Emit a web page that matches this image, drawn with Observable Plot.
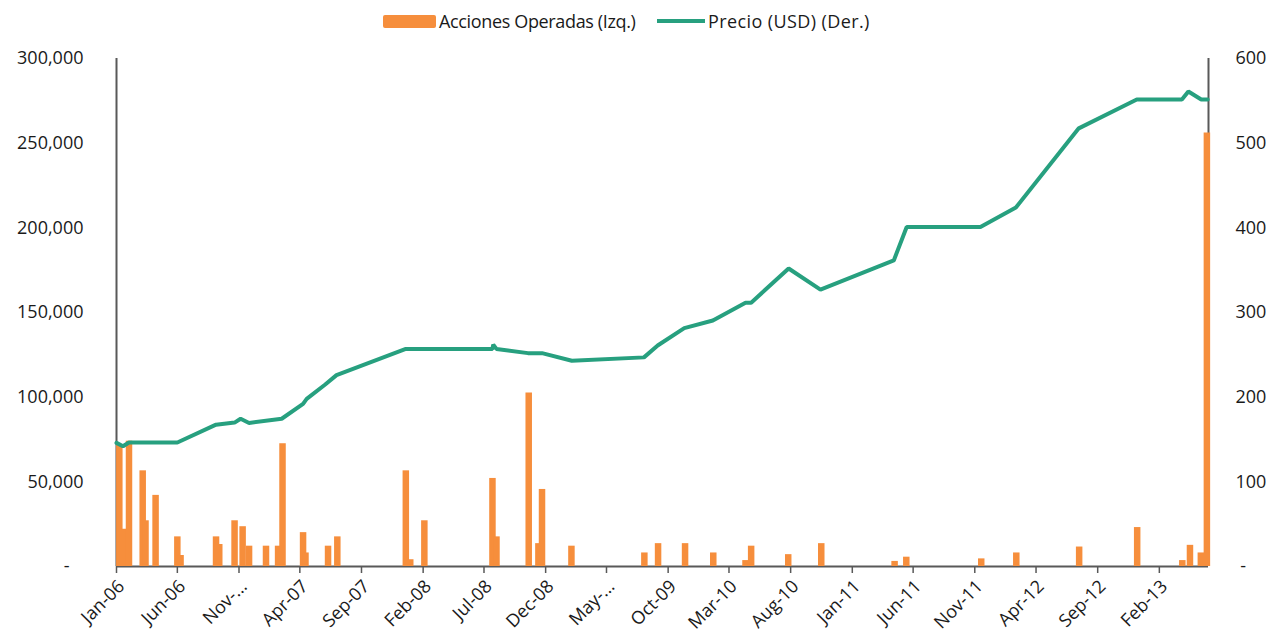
<!DOCTYPE html>
<html>
<head>
<meta charset="utf-8">
<script src="https://cdn.jsdelivr.net/npm/d3@7"></script>
<script src="https://cdn.jsdelivr.net/npm/@observablehq/plot@0.6"></script>
<style>
  body { margin: 0; background: #fff; font-family: "Open Sans", sans-serif; }
  #legend { position: relative; width: 1280px; height: 40px; font-size: 18px; color: #1a1a1a; }
  #legend span { position: absolute; display: block; }
  #legend .lab { top: 8px; line-height: 26px; white-space: nowrap; }
  #chart svg { display: block; }
</style>
</head>
<body>
<div id="legend">
  <span style="left:383px;top:15px;width:53px;height:13px;background:#F68E3C;border-radius:2px;"></span>
  <span class="lab" style="left:439px;letter-spacing:-0.35px;">Acciones Operadas (Izq.)</span>
  <span style="left:657px;top:19px;width:48px;height:4px;background:#27A07F;"></span>
  <span class="lab" style="left:708px;letter-spacing:0.4px;">Precio (USD) (Der.)</span>
</div>
<div id="chart"></div>
<script>
// ---- Data: shares traded (left axis) ----
const tradeDates = [
  "2006-01-08","2006-01-17","2006-02-01","2006-03-07","2006-03-14","2006-04-08",
  "2006-06-01","2006-06-09","2006-09-05","2006-09-13","2006-10-21","2006-11-10",
  "2006-11-26","2007-01-07","2007-02-06","2007-02-17","2007-04-09","2007-04-15",
  "2007-06-10","2007-07-03","2007-12-20","2007-12-31","2008-02-04","2008-07-22",
  "2008-08-01","2008-10-20","2008-11-13","2008-11-22","2009-02-03","2009-08-03",
  "2009-09-06","2009-11-12","2010-01-21","2010-04-11","2010-04-25","2010-07-26",
  "2010-10-16","2011-04-16","2011-05-15","2011-11-17","2012-02-12","2012-07-17",
  "2012-12-08","2013-03-30","2013-04-18","2013-05-15","2013-05-30"
];
const tradeVolumes = [
  72000, 22000, 74000, 56500, 27000, 42000,
  17500, 6500, 17500, 13000, 27000, 23500,
  12000, 12000, 12000, 72500, 20000, 8000,
  12000, 17500, 56500, 4000, 27000, 52000,
  17500, 102500, 13500, 45500, 12000, 8000,
  13500, 13500, 8000, 3500, 12000, 7000,
  13500, 3000, 5500, 4500, 8000, 11500,
  23000, 3500, 12500, 8000, 256000
];

// ---- Data: price in USD (right axis) ----
const priceDates = [
  "2006-01-01","2006-01-17","2006-02-01","2006-06-01","2006-09-05","2006-10-21",
  "2006-11-05","2006-11-26","2007-02-15","2007-04-09","2007-04-18","2007-06-03",
  "2007-07-01","2007-12-20","2008-07-22","2008-07-24","2008-08-01","2008-10-18",
  "2008-11-22","2009-02-04","2009-08-02","2009-09-05","2009-11-10","2010-01-20",
  "2010-04-11","2010-04-25","2010-07-27","2010-10-14","2011-04-14","2011-05-16",
  "2011-11-15","2012-02-11","2012-07-16","2012-12-07","2013-03-29","2013-04-14",
  "2013-05-16","2013-06-01"
];
const priceValues = [
  146, 142, 146.5, 146.5, 167.5, 170,
  174.5, 169.5, 174.5, 192, 198, 215,
  226, 257, 257, 262, 257, 252,
  252, 243, 247, 261, 281.5, 290.5,
  311.5, 311.5, 352, 327, 361.5, 401,
  401, 424, 517.5, 551.5, 551.5, 561,
  551.5, 551.5
];

// ---- Axis ticks ----
const xTickDates = [
  "2006-01-01","2006-06-01","2006-11-01","2007-04-01","2007-09-01","2008-02-01",
  "2008-07-01","2008-12-01","2009-05-01","2009-10-01","2010-03-01","2010-08-01",
  "2011-01-01","2011-06-01","2011-11-01","2012-04-01","2012-09-01","2013-02-01"
];
const xTickLabels = [
  "Jan-06","Jun-06","Nov-...","Apr-07","Sep-07","Feb-08",
  "Jul-08","Dec-08","May-...","Oct-09","Mar-10","Aug-10",
  "Jan-11","Jun-11","Nov-11","Apr-12","Sep-12","Feb-13"
];
const leftTicks = [0, 50000, 100000, 150000, 200000, 250000, 300000];
const leftTickLabels = ["-\u00a0\u00a0\u00a0", "50,000", "100,000", "150,000", "200,000", "250,000", "300,000"];
const rightTickLabels = ["\u00a0-", "100", "200", "300", "400", "500", "600"];

const xStartStr = "2006-01-01";
const xEndStr = "2013-06-03";

// ---- Build ----
const parse = d3.utcParse("%Y-%m-%d");
const trades = tradeDates.map((d, i) => ({date: parse(d), vol: tradeVolumes[i]}));
const prices = priceDates.map((d, i) => ({date: parse(d), price: priceValues[i]}));
const RATIO = 300000 / 600; // right axis 0..600 maps onto left 0..300,000
const xStart = parse(xStartStr), xEnd = parse(xEndStr);
const xTicks = xTickDates.map(parse);
const xLabelMap = new Map(xTicks.map((d, i) => [d.getTime(), xTickLabels[i]]));
const leftMap = new Map(leftTicks.map((d, i) => [d, leftTickLabels[i]]));
const rightMap = new Map(leftTicks.map((d, i) => [d, rightTickLabels[i]]));

const ORANGE = "#F68E3C", GREEN = "#27A07F", AXIS = "#595959";

const chart = Plot.plot({
  width: 1280,
  height: 601,
  marginTop: 18,
  marginBottom: 75,
  marginLeft: 116,
  marginRight: 72,
  style: {fontFamily: "'Open Sans', sans-serif", fontSize: "18px", color: "#1a1a1a", background: "#fff"},
  x: {type: "utc", domain: [xStart, xEnd]},
  y: {domain: [0, 300000]},
  marks: [
    Plot.axisY({anchor: "left", ticks: leftTicks, tickFormat: d => leftMap.get(d), tickSize: 0, tickPadding: 33, label: null}),
    Plot.axisY({anchor: "right", ticks: leftTicks, tickFormat: d => rightMap.get(d), tickSize: 0, tickPadding: 27, label: null}),
    Plot.axisX({ticks: xTicks, tickFormat: () => "", tickSize: 7, stroke: AXIS, strokeWidth: 1.5, label: null}),
    Plot.axisX({ticks: xTicks, tickFormat: d => xLabelMap.get(d.getTime()), tickRotate: -45, tickSize: 0, tickPadding: 6, dx: 5, dy: 11, label: null}),
    Plot.ruleY([0], {stroke: AXIS, strokeWidth: 2}),
    Plot.ruleX([xStart, xEnd], {y1: 0, y2: 300000, stroke: AXIS, strokeWidth: 2}),
    Plot.ruleX(trades, {x: "date", y1: 0, y2: "vol", stroke: ORANGE, strokeWidth: 6.5}),
    Plot.line(prices, {x: "date", y: d => d.price * RATIO, stroke: GREEN, strokeWidth: 4, strokeLinejoin: "miter"})
  ]
});
document.getElementById("chart").appendChild(chart);
</script>
</body>
</html>
